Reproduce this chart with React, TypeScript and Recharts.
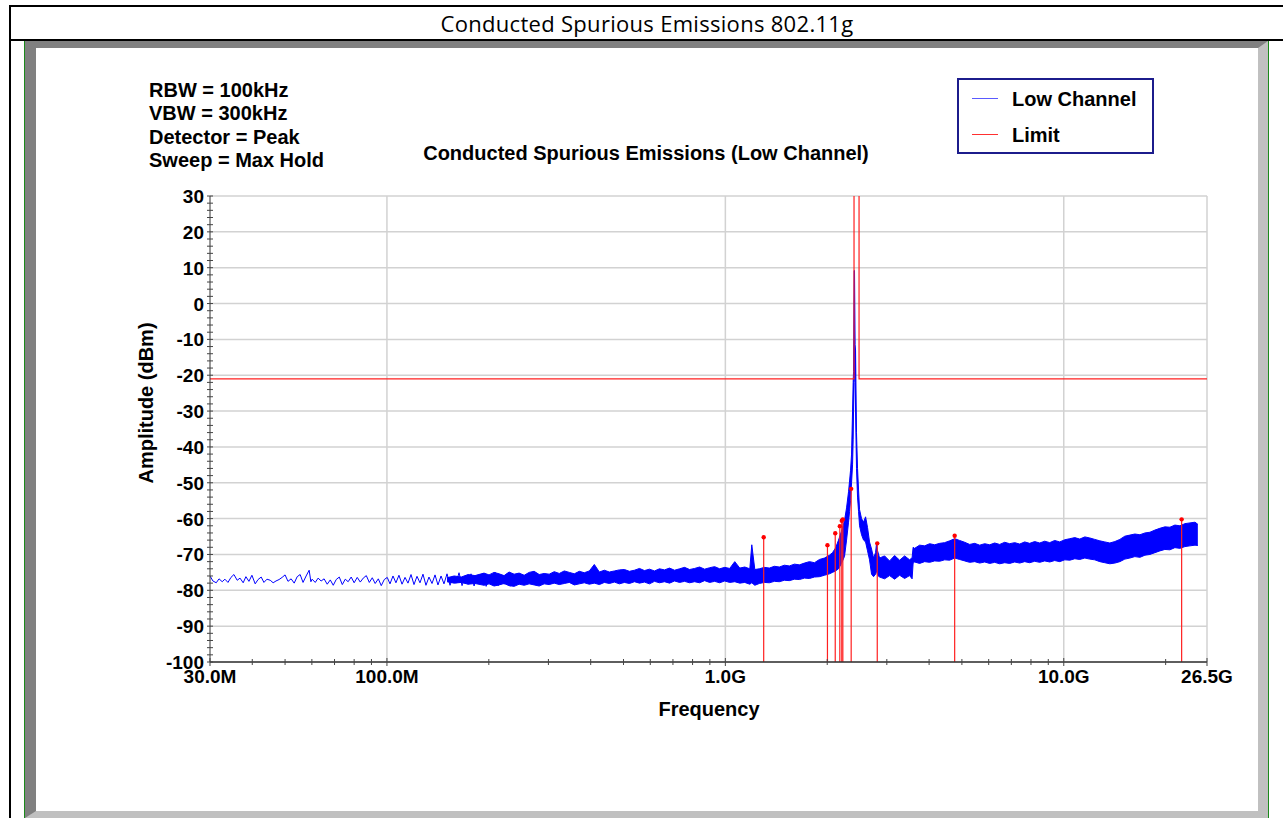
import React from "react";
import {
  ComposedChart,
  Line,
  Area,
  XAxis,
  YAxis,
  CartesianGrid,
  ReferenceLine,
  ReferenceDot,
} from "recharts";

// Sparse part of the sweep (30 MHz .. ~230 MHz), MHz / dBm
const lowTraceMHz = [
  30.0, 30.6, 31.3, 31.9, 32.6, 33.2, 33.9, 34.6, 35.3, 36.1, 36.8, 37.6, 38.3, 39.1, 39.9, 40.8,
  41.6, 42.5, 43.3, 44.2, 45.2, 46.1, 47.0, 48.0, 49.0, 50.0, 51.0, 52.1, 53.2, 54.3, 55.4, 56.5,
  57.7, 58.9, 59.6, 60.1, 61.4, 62.6, 63.9, 65.2, 66.6, 68.0, 69.4, 70.8, 72.3, 73.8, 75.3, 76.8,
  78.4, 80.0, 81.7, 83.4, 85.1, 86.9, 88.7, 90.5, 92.3, 94.3, 96.2, 98.2, 100.2, 102.1, 104.2,
  106.3, 108.5, 110.8, 113.1, 115.4, 117.8, 120.2, 122.7, 125.2, 127.8, 130.4, 133.1, 135.9,
  138.7, 141.5, 144.5, 147.4, 150.5, 153.6, 156.8, 160.0, 163.3, 166.7, 170.1, 173.7, 177.2,
  180.9, 184.7, 188.5, 192.4, 196.4, 200.5, 204.6, 208.8, 213.2, 217.6, 222.1, 226.7, 231.4,
];
const lowTraceDbm = [
  -76.0, -77.4, -77.9, -76.8, -77.6, -76.9, -77.8, -76.4, -75.6, -77.2, -76.6, -77.9, -76.2, -77.5, -75.8, -78.2,
  -77.0, -76.3, -77.8, -76.9, -77.2, -77.9, -77.4, -77.0, -76.4, -75.7, -77.5, -76.8, -78.0, -76.2, -75.6, -77.8,
  -76.0, -74.4, -77.6, -76.9, -77.8, -76.6, -77.4, -76.8, -78.3, -77.1, -78.6, -77.0, -76.3, -78.4, -76.9, -77.6,
  -76.3, -77.9, -76.4, -77.7, -76.6, -75.9, -77.8, -76.5, -78.1, -76.8, -78.7, -77.0, -76.4, -78.2, -76.0,
  -77.9, -75.8, -78.3, -76.4, -78.0, -75.6, -78.4, -76.1, -77.9, -75.5, -78.6, -76.3, -78.1,
  -75.7, -78.5, -76.0, -78.2, -75.4, -78.6, -76.2, -78.0, -75.1, -78.7, -76.0, -78.3, -75.4,
  -78.8, -76.1, -78.2, -75.3, -78.9, -76.2, -78.4, -75.0, -78.7, -75.9, -78.3, -75.4, -78.9,
];

// Dense max-hold part of the sweep as a min/max envelope, MHz / dBm
const bandMHz = [
  150.5, 158.0, 165.8, 173.7, 182.0,
  193.6, 200.3, 207.3, 214.5, 221.9, 229.6, 237.6, 245.8, 254.4, 263.2, 272.3, 281.8, 291.5, 301.6,
  312.1, 323.0, 334.2, 345.8, 357.8, 370.2, 383.0, 396.3, 410.0, 424.3, 439.0, 454.2, 470.0, 486.3,
  503.2, 520.6, 538.7, 557.4, 576.7, 596.7, 617.4, 638.9, 661.0, 684.0, 707.7, 732.3, 757.7, 784.0,
  811.2, 839.3, 868.4, 898.6, 929.8, 962.1, 995.5, 1030, 1066, 1103, 1141, 1181, 1197, 1222,
  1260, 1304, 1349, 1396, 1444, 1494, 1546, 1600, 1655, 1713, 1772, 1834, 1897, 1963, 2031,
  2073, 2116, 2160, 2204, 2250, 2281, 2312, 2328, 2344, 2360, 2376, 2386, 2392, 2402, 2408, 2418, 2425,
  2441, 2458, 2475, 2492, 2526, 2561, 2596, 2631, 2667, 2704, 2741, 2779, 2798, 2817, 2856, 2955,
  3057, 3163, 3273, 3386, 3503, 3563,
  3588, 3625, 3750, 3880, 4015, 4154, 4298, 4447, 4600, 4760, 4925, 5096, 5272, 5455, 5643, 5839,
  6040, 6250, 6466, 6690, 6921, 7161, 7409, 7665, 7930, 8205, 8490, 8784, 9090, 9400, 9730, 10070,
  10420, 10780, 11150, 11540, 11940, 12350, 12780, 13220, 13680, 14160, 14650, 15150, 15680, 16220,
  16790, 17370, 17970, 18590, 19230, 19900, 20590, 21300, 22040, 22810, 23600, 24420, 24900,
];
const bandLow = [
  -77.6, -78.0, -77.8, -78.3, -78.1,
  -78.6, -78.2, -78.8, -78.5, -78.1, -78.7, -78.9, -78.3, -78.6, -78.2, -78.5, -78.8, -78.2, -78.4,
  -78.0, -78.4, -78.1, -77.8, -78.5, -78.2, -77.9, -78.3, -78.0, -78.4, -77.8, -78.1, -77.7, -78.2,
  -77.8, -78.1, -77.6, -78.0, -77.7, -78.2, -77.5, -77.9, -77.6, -78.0, -77.4, -77.8, -77.5, -77.9,
  -77.6, -77.9, -77.3, -77.8, -77.5, -77.9, -77.4, -77.8, -77.6, -78.0, -77.8, -78.3, -77.9, -78.6,
  -78.1, -77.8, -77.9, -77.5, -77.6, -77.2, -77.3, -76.9, -77.0, -76.6, -76.7, -76.3, -76.2, -75.8, -75.4,
  -75.0, -74.6, -74.0, -72.5, -70.5, -66.0, -61.0, -58.0, -55.0, -50.0, -45.0, -38.0, -30.0, -22.0, -20.0, -13.0, -30.0,
  -46.0, -54.0, -58.0, -62.0, -64.5, -66.0, -66.5, -69.0, -71.5, -75.5, -76.2, -75.5, -74.5, -75.8, -76.3, -76.8,
  -75.9, -76.9, -75.8, -76.7, -75.9, -76.8,
  -72.4, -72.1, -72.5, -72.0, -72.2, -71.8, -71.9, -71.5, -71.6, -71.0, -71.4, -71.8, -72.2, -72.0, -72.4, -72.1,
  -72.5, -72.2, -72.6, -72.3, -72.5, -72.1, -72.4, -72.0, -72.3, -71.9, -72.2, -71.8, -72.1, -71.7, -72.0, -71.5,
  -71.6, -71.2, -71.4, -71.0, -71.3, -71.5, -72.0, -72.3, -72.6, -72.4, -72.0, -71.3, -71.0, -70.6,
  -70.8, -70.2, -70.0, -69.5, -69.0, -68.6, -68.7, -68.1, -68.3, -67.8, -67.6, -67.4, -67.5,
];
const bandHigh = [
  -76.5, -76.0, -76.3, -75.6, -75.9,
  -75.2, -75.7, -75.0, -75.4, -75.9, -74.9, -75.5, -75.2, -75.8, -75.0, -74.7, -75.6, -75.3, -75.5,
  -74.8, -75.3, -74.6, -75.0, -75.4, -74.7, -75.1, -74.6, -72.8, -74.9, -74.4, -74.9, -74.6, -74.3,
  -74.2, -74.7, -74.4, -73.9, -74.5, -74.1, -74.6, -74.0, -74.3, -73.8, -74.4, -74.0, -73.6, -74.2,
  -73.9, -73.5, -74.1, -73.7, -73.4, -74.0, -73.6, -73.9, -72.0, -73.8, -73.5, -74.0, -67.3, -74.2,
  -74.0, -73.6, -73.8, -73.3, -73.5, -73.0, -73.2, -72.7, -72.9, -72.4, -72.0, -72.3, -71.4, -71.0, -70.2,
  -69.5, -68.2, -66.0, -63.5, -60.5, -57.0, -52.5, -49.5, -46.5, -42.0, -30.0, -22.0, -19.0, 9.2, 9.2, -11.5, -13.0,
  -36.0, -46.0, -52.0, -57.5, -60.0, -61.0, -59.5, -62.5, -66.5, -68.5, -71.0, -69.5, -66.8, -69.0, -71.0, -70.4,
  -71.8, -70.3, -71.6, -70.4, -71.5, -70.9,
  -68.0, -68.3, -67.4, -67.6, -67.0, -67.3, -66.9, -66.7, -66.2, -65.6, -66.1, -66.6, -67.2, -66.9, -67.4, -67.0,
  -67.3, -66.8, -67.2, -66.6, -67.0, -66.7, -67.1, -66.5, -66.9, -66.4, -66.8, -66.3, -66.7, -66.1, -66.5, -65.9,
  -65.6, -65.3, -65.7, -65.1, -65.4, -65.8, -66.2, -66.5, -66.8, -66.4, -65.8, -64.9, -64.6, -64.3,
  -64.5, -64.0, -63.8, -63.2, -62.7, -62.3, -62.4, -61.8, -62.0, -61.4, -61.2, -61.0, -61.6,
];

// Limit line; lifted off scale across the 2400-2483.5 MHz band
const limitMHz = [30, 2400, 2400, 2483.5, 2483.5, 26500];
const limitDbm = [-21, -21, 60, 60, -21, -21];

// Peak markers
const markerMHz = [1298, 2003, 2112, 2179, 2208, 2224, 2354, 2811, 4760, 22300];
const markerDbm = [-65.2, -67.4, -64.1, -62.1, -60.6, -60.2, -51.7, -66.9, -64.8, -60.2];

const xTickValues = [
  30e6, 40e6, 50e6, 60e6, 70e6, 80e6, 90e6, 100e6, 200e6, 300e6, 400e6, 500e6, 600e6, 700e6,
  800e6, 900e6, 1e9, 2e9, 3e9, 4e9, 5e9, 6e9, 7e9, 8e9, 9e9, 10e9, 20e9, 26.5e9,
];
const xTickLabels = [
  "30.0M", "", "", "", "", "", "", "100.0M", "", "", "", "", "", "",
  "", "", "1.0G", "", "", "", "", "", "", "", "", "10.0G", "", "26.5G",
];
const yTickValues = Array.from({ length: 66 }, (_, i) => -100 + i * 2);
const yGridValues = [-100, -90, -80, -70, -60, -50, -40, -30, -20, -10, 0, 10, 20, 30];

const lowData = lowTraceMHz.map((f, i) => ({ f: f * 1e6, v: lowTraceDbm[i] }));
const bandData = bandMHz.map((f, i) => ({ f: f * 1e6, band: [bandLow[i], bandHigh[i]] }));
const limitData = limitMHz.map((f, i) => ({ f: f * 1e6, v: limitDbm[i] }));

const FONT = "'Liberation Sans', Arial, sans-serif";

const XTick = (props: any) => {
  const { x, y, payload, index } = props;
  const label = xTickLabels[index] ?? "";
  const major = label !== "" || payload.value === 1e8;
  return (
    <g>
      <line x1={x} x2={x} y1={y - (major ? 4 : 3)} y2={y + (major ? 4 : 3)} stroke="#444" />
      {label && (
        <text x={x} y={y + 21} textAnchor="middle" fontFamily={FONT} fontWeight="bold" fontSize={19} fill="#000">
          {label}
        </text>
      )}
    </g>
  );
};

const YTick = (props: any) => {
  const { x, y, payload } = props;
  const v = payload.value as number;
  const major = v % 10 === 0;
  return (
    <g>
      <line x1={x - 3} x2={x + 3} y1={y} y2={y} stroke="#444" />
      {major && (
        <text x={x - 6} y={y + 7} textAnchor="end" fontFamily={FONT} fontWeight="bold" fontSize={19} fill="#000">
          {v}
        </text>
      )}
    </g>
  );
};

const textStyle: React.CSSProperties = {
  position: "absolute",
  fontFamily: FONT,
  fontWeight: "bold",
  fontSize: 20,
  color: "#000",
  whiteSpace: "nowrap",
};

export default function App() {
  return (
    <div style={{ position: "absolute", left: 0, top: 0, width: 1283, height: 818, background: "#fff", overflow: "hidden" }}>
      {/* table cell borders */}
      <div style={{ position: "absolute", left: 9, top: 5, width: 1274, height: 2, background: "#000" }} />
      <div style={{ position: "absolute", left: 9, top: 5, width: 2, height: 813, background: "#000" }} />
      <div style={{ position: "absolute", left: 9, top: 39, width: 1274, height: 2, background: "#000" }} />
      <div
        style={{
          position: "absolute",
          left: 11,
          top: 7,
          width: 1272,
          height: 32,
          display: "flex",
          alignItems: "center",
          justifyContent: "center",
          fontFamily: "'Open Sans', sans-serif",
          fontSize: 22,
          letterSpacing: 0.3,
          color: "#000",
        }}
      >
        Conducted Spurious Emissions 802.11g
      </div>

      {/* bevelled plot window */}
      <div
        style={{
          position: "absolute",
          left: 24,
          top: 41,
          width: 1245,
          height: 777,
          boxSizing: "border-box",
          borderLeft: "1px solid #1a8a1a",
          borderRight: "1px solid #1a8a1a",
        }}
      >
        <div
          style={{
            width: "100%",
            height: "100%",
            boxSizing: "border-box",
            borderLeft: "11px solid #808080",
            borderTop: "7px solid #808080",
            borderRight: "10px solid #c0c0c0",
            borderBottom: "7px solid #c0c0c0",
            background: "#fff",
          }}
        />
      </div>

      <div style={{ position: "absolute", left: 0, top: 0 }}>
        <ComposedChart width={1283} height={818} margin={{ top: 196, right: 76, bottom: 116, left: 150 }}>
          <CartesianGrid
            stroke="#d2d2d2"
            strokeWidth={1.5}
            horizontalValues={yGridValues}
            verticalValues={[1e8, 1e9, 1e10, 26.5e9]}
          />
          <XAxis
            dataKey="f"
            type="number"
            scale="log"
            domain={[30e6, 26.5e9]}
            allowDataOverflow
            ticks={xTickValues}
            interval={0}
            tick={<XTick />}
            tickLine={false}
            tickSize={0}
            tickMargin={0}
            height={40}
            axisLine={{ stroke: "#333", strokeWidth: 1.5 }}
          />
          <YAxis
            type="number"
            domain={[-100, 30]}
            allowDataOverflow
            ticks={yTickValues}
            interval={0}
            tick={<YTick />}
            tickLine={false}
            tickSize={0}
            tickMargin={0}
            width={60}
            axisLine={{ stroke: "#333", strokeWidth: 1 }}
          />
          <Line
            data={lowData}
            dataKey="v"
            type="linear"
            stroke="#0000ff"
            strokeWidth={1}
            dot={false}
            activeDot={false}
            isAnimationActive={false}
          />
          <Area
            data={bandData}
            dataKey="band"
            type="linear"
            stroke="#0000ff"
            strokeWidth={1}
            fill="#0000ff"
            fillOpacity={1}
            dot={false}
            activeDot={false}
            isAnimationActive={false}
          />
          {markerMHz.map((f, i) => (
            <ReferenceLine
              key={`stem-${i}`}
              segment={[
                { x: f * 1e6, y: -100 },
                { x: f * 1e6, y: markerDbm[i] },
              ]}
              stroke="#ff2020"
              strokeWidth={1.2}
            />
          ))}
          {markerMHz.map((f, i) => (
            <ReferenceDot key={`dot-${i}`} x={f * 1e6} y={markerDbm[i]} r={2.2} fill="#ff0000" stroke="none" />
          ))}
          <Line
            data={limitData}
            dataKey="v"
            type="linear"
            stroke="#ff2020"
            strokeWidth={1.2}
            dot={false}
            activeDot={false}
            isAnimationActive={false}
          />
        </ComposedChart>
      </div>

      {/* settings block */}
      <div style={{ ...textStyle, left: 149, top: 79, lineHeight: "23.3px" }}>
        <div>RBW = 100kHz</div>
        <div>VBW = 300kHz</div>
        <div>Detector = Peak</div>
        <div>Sweep = Max Hold</div>
      </div>

      <div style={{ ...textStyle, left: 346, top: 142, width: 600, textAlign: "center", lineHeight: "normal" }}>
        Conducted Spurious Emissions (Low Channel)
      </div>

      {/* legend */}
      <div
        style={{
          position: "absolute",
          left: 957,
          top: 78,
          width: 197,
          height: 76,
          boxSizing: "border-box",
          border: "2px solid #1c1c8c",
          background: "#fff",
        }}
      >
        <div style={{ position: "absolute", left: 13, top: 18, width: 26, height: 1, background: "#5a5aff" }} />
        <div style={{ ...textStyle, left: 53, top: 8, lineHeight: "normal" }}>Low Channel</div>
        <div style={{ position: "absolute", left: 13, top: 54, width: 26, height: 1, background: "#ff3030" }} />
        <div style={{ ...textStyle, left: 53, top: 44, lineHeight: "normal" }}>Limit</div>
      </div>

      <div
        style={{
          ...textStyle,
          left: 146,
          top: 403,
          lineHeight: "normal",
          transform: "translate(-50%, -50%) rotate(-90deg)",
        }}
      >
        Amplitude (dBm)
      </div>

      <div style={{ ...textStyle, left: 709, top: 698, transform: "translateX(-50%)", lineHeight: "normal" }}>
        Frequency
      </div>
    </div>
  );
}
